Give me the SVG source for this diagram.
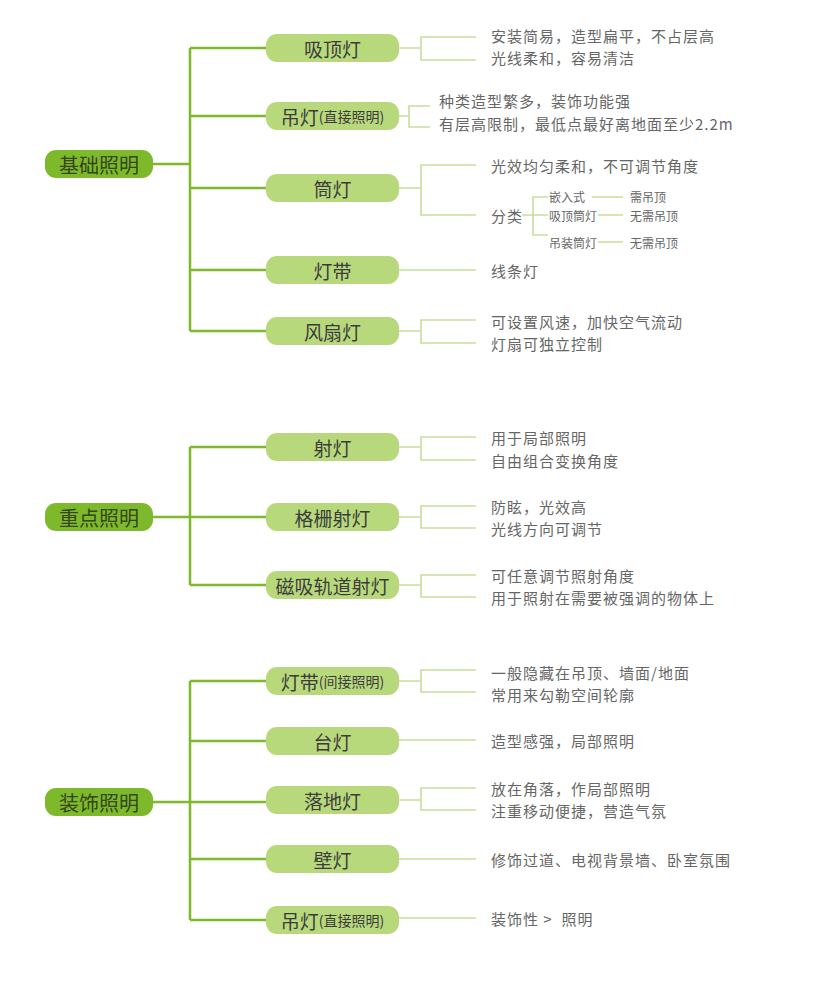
<svg xmlns="http://www.w3.org/2000/svg" width="831" height="990" viewBox="0 0 831 990">
<style>
text{font-family:"Noto Sans CJK SC","Noto Sans",sans-serif;dominant-baseline:central}
.root rect{fill:#7db92a}
.root text{font-size:20px;fill:#33461c;text-anchor:middle}
.child rect{fill:#b8d87c}
.child text{font-size:19px;fill:#3c3c3c;text-anchor:middle}
.child .sm{font-size:14px}
.d{font-size:15px;letter-spacing:1px;fill:#666}
.s{font-size:12px;fill:#666}
.trunk{stroke:#7db92a;stroke-width:2.5;fill:none}
.leaf{stroke:#c9dd9c;stroke-width:1.6;fill:none}
</style>
<rect width="831" height="990" fill="#fff"/>
<g id="connectors">
<path class="trunk" d="M153 164H190M190 48V331M190 48H266M190 116H266M190 188H266M190 270H266M190 331H266"/>
<path class="trunk" d="M153 517H190M190 447V585M190 447H266M190 517H266M190 585H266"/>
<path class="trunk" d="M153 802H190M190 681V920M190 681H266M190 741H266M190 802H266M190 859H266M190 920H266"/>
<path class="leaf" d="M399 48H421M476 37H421V60H476"/>
<path class="leaf" d="M399 116H409M430 106H409V127H430"/>
<path class="leaf" d="M399 188H421M476 165H421V215H476"/>
<path class="leaf" d="M522 215H533M548 197H533V235H548M533 215H548M592 197H623M598 215H623M598 242H623"/>
<path class="leaf" d="M399 270H476"/>
<path class="leaf" d="M399 331H421M476 320H421V343H476"/>
<path class="leaf" d="M399 447H421M476 437H421V460H476"/>
<path class="leaf" d="M399 517H421M476 506H421V528H476"/>
<path class="leaf" d="M399 585H421M476 575H421V597H476"/>
<path class="leaf" d="M399 681H421M476 670H421V692H476"/>
<path class="leaf" d="M399 740H476"/>
<path class="leaf" d="M399 800H421M476 788H421V810H476"/>
<path class="leaf" d="M399 859H476"/>
<path class="leaf" d="M399 918H476"/>
</g>
<g id="root1" class="root"><rect x="45" y="150" width="108" height="28" rx="11"/><text x="99" y="164">基础照明</text></g>
<g id="root2" class="root"><rect x="45" y="503" width="108" height="28" rx="11"/><text x="99" y="517">重点照明</text></g>
<g id="root3" class="root"><rect x="45" y="788" width="108" height="28" rx="11"/><text x="99" y="802">装饰照明</text></g>

<g id="n-xiding" class="child"><rect x="266" y="34" width="133" height="28" rx="11"/><text x="332.5" y="48">吸顶灯</text></g>
<g id="n-diaodeng1" class="child"><rect x="266" y="102" width="133" height="28" rx="11"/><text x="332.5" y="116">吊灯<tspan class="sm">(直接照明)</tspan></text></g>
<g id="n-tongdeng" class="child"><rect x="266" y="174" width="133" height="28" rx="11"/><text x="332.5" y="188">筒灯</text></g>
<g id="n-dengdai1" class="child"><rect x="266" y="256" width="133" height="28" rx="11"/><text x="332.5" y="270">灯带</text></g>
<g id="n-fengshan" class="child"><rect x="266" y="317" width="133" height="28" rx="11"/><text x="332.5" y="331">风扇灯</text></g>

<g id="n-shedeng" class="child"><rect x="266" y="433" width="133" height="28" rx="11"/><text x="332.5" y="447">射灯</text></g>
<g id="n-geshan" class="child"><rect x="266" y="503" width="133" height="28" rx="11"/><text x="332.5" y="517">格栅射灯</text></g>
<g id="n-cixi" class="child"><rect x="266" y="571" width="133" height="28" rx="11"/><text x="332.5" y="585">磁吸轨道射灯</text></g>

<g id="n-dengdai2" class="child"><rect x="266" y="667" width="133" height="28" rx="11"/><text x="332.5" y="681">灯带<tspan class="sm">(间接照明)</tspan></text></g>
<g id="n-taideng" class="child"><rect x="266" y="727" width="133" height="28" rx="11"/><text x="332.5" y="741">台灯</text></g>
<g id="n-luodi" class="child"><rect x="266" y="786" width="133" height="28" rx="11"/><text x="332.5" y="800">落地灯</text></g>
<g id="n-bideng" class="child"><rect x="266" y="845" width="133" height="28" rx="11"/><text x="332.5" y="859">壁灯</text></g>
<g id="n-diaodeng2" class="child"><rect x="266" y="906" width="133" height="28" rx="11"/><text x="332.5" y="920">吊灯<tspan class="sm">(直接照明)</tspan></text></g>

<g id="details">
<text class="d" x="491" y="35">安装简易，造型扁平，不占层高</text>
<text class="d" x="491" y="57">光线柔和，容易清洁</text>
<text class="d" x="439" y="100">种类造型繁多，装饰功能强</text>
<text class="d" x="439" y="123">有层高限制，最低点最好离地面至少2.2m</text>
<text class="d" x="491" y="165">光效均匀柔和，不可调节角度</text>
<text class="d" x="491" y="215">分类</text>
<text class="s" x="549" y="196">嵌入式</text>
<text class="s" x="549" y="215">吸顶筒灯</text>
<text class="s" x="549" y="242">吊装筒灯</text>
<text class="s" x="630" y="196">需吊顶</text>
<text class="s" x="630" y="215">无需吊顶</text>
<text class="s" x="630" y="242">无需吊顶</text>
<text class="d" x="491" y="270">线条灯</text>
<text class="d" x="491" y="321">可设置风速，加快空气流动</text>
<text class="d" x="491" y="343">灯扇可独立控制</text>
<text class="d" x="491" y="437">用于局部照明</text>
<text class="d" x="491" y="460">自由组合变换角度</text>
<text class="d" x="491" y="506">防眩，光效高</text>
<text class="d" x="491" y="528">光线方向可调节</text>
<text class="d" x="491" y="575">可任意调节照射角度</text>
<text class="d" x="491" y="597">用于照射在需要被强调的物体上</text>
<text class="d" x="491" y="672">一般隐藏在吊顶、墙面/地面</text>
<text class="d" x="491" y="694">常用来勾勒空间轮廓</text>
<text class="d" x="491" y="740">造型感强，局部照明</text>
<text class="d" x="491" y="788">放在角落，作局部照明</text>
<text class="d" x="491" y="810">注重移动便捷，营造气氛</text>
<text class="d" x="491" y="859">修饰过道、电视背景墙、卧室氛围</text>
<text class="d" x="491" y="918">装饰性 &gt; &#160;照明</text>
</g>
</svg>
